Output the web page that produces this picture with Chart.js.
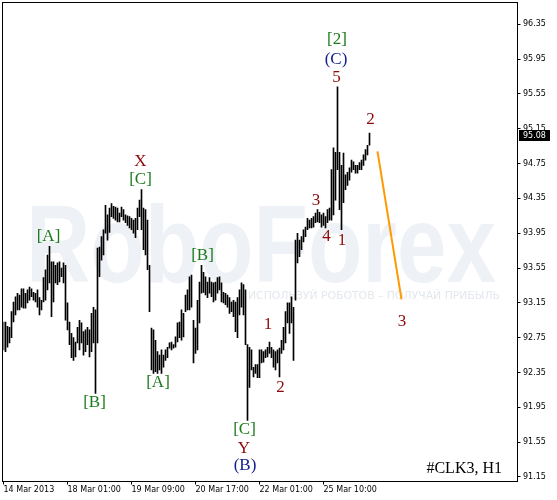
<!DOCTYPE html>
<html><head><meta charset="utf-8">
<script src="https://cdn.jsdelivr.net/npm/chart.js@4.4.1/dist/chart.umd.min.js"></script>
<style>html,body{margin:0;padding:0;background:#fff;overflow:hidden}canvas{display:block}</style>
</head><body>
<canvas id="c" width="557" height="500"></canvas>
<script>
// ---- data (hourly bars, #CLK3 H1) ----
const HIGHS = [
92.93,92.93,92.88,92.87,93.05,93.16,93.22,93.26,93.24,93.31,
93.31,93.26,93.30,93.33,93.31,93.27,93.26,93.30,93.21,93.18,
93.44,93.53,93.70,93.80,93.62,93.62,93.58,93.61,93.62,93.55,
93.61,93.58,93.15,92.93,92.80,92.75,92.70,92.87,92.95,92.92,
92.82,92.84,92.87,92.84,93.03,93.10,93.07,93.78,93.79,93.91,
93.99,94.27,94.16,94.24,94.29,94.26,94.25,94.24,94.18,94.25,
94.22,94.16,94.15,94.14,94.12,94.10,94.12,94.24,94.33,94.45,
94.24,94.22,94.10,93.58,92.86,92.84,92.72,92.59,92.55,92.61,
92.55,92.61,92.64,92.69,92.70,92.67,92.76,92.92,92.93,93.07,
93.03,93.24,93.30,93.45,93.47,92.95,92.86,93.18,93.39,93.58,
93.50,93.45,93.39,93.44,93.39,93.38,93.39,93.44,93.45,93.38,
93.27,93.26,93.24,93.21,93.16,93.18,93.16,93.21,93.30,93.38,
93.36,93.30,92.67,92.64,92.61,92.41,92.44,92.44,92.61,92.61,
92.59,92.61,92.64,92.70,92.64,92.61,92.59,92.61,92.63,92.72,
92.87,93.05,93.15,93.15,93.22,93.10,93.87,93.95,93.87,93.91,
93.99,94.02,94.12,94.10,94.12,94.14,94.18,94.22,94.19,94.16,
94.18,94.14,94.22,94.24,94.68,94.93,94.88,95.63,94.88,94.73,
94.87,94.62,94.65,94.70,94.79,94.77,94.73,94.73,94.76,94.79,
94.85,94.91,94.96,95.10];
const LOWS = [
92.61,92.59,92.64,92.69,92.75,92.93,93.01,93.07,93.07,93.10,
93.09,93.09,93.15,93.18,93.22,93.18,93.16,93.10,93.01,93.07,
93.16,93.18,93.30,93.38,92.99,93.16,93.38,93.36,93.39,93.45,
93.38,92.95,92.84,92.67,92.52,92.49,92.53,92.69,92.61,92.69,
92.55,92.59,92.67,92.53,92.59,92.69,92.11,92.69,93.45,93.64,
93.70,93.95,93.87,93.96,94.14,94.12,94.10,94.08,94.08,94.14,
94.10,94.07,94.04,94.01,93.99,93.95,93.90,93.99,94.14,93.99,
93.76,93.70,93.53,93.05,92.38,92.34,92.36,92.34,92.38,92.34,
92.41,92.49,92.52,92.63,92.61,92.63,92.64,92.70,92.75,92.72,
92.76,93.05,93.07,93.07,93.10,92.46,92.57,92.61,92.92,93.26,
93.27,93.24,93.21,93.26,93.22,93.16,93.18,93.26,93.30,93.16,
93.15,93.13,93.10,93.03,93.05,92.99,92.82,92.75,93.01,93.10,
93.01,92.67,91.80,92.18,92.38,92.30,92.34,92.29,92.29,92.46,
92.47,92.52,92.53,92.57,92.52,92.41,92.38,92.46,92.30,92.57,
92.61,92.69,92.92,92.80,92.92,92.49,93.18,93.61,93.68,93.76,
93.85,93.91,93.99,94.01,94.01,94.02,94.07,94.08,94.07,94.02,
94.04,94.01,94.07,94.10,94.10,94.16,94.33,94.68,94.22,93.99,
94.30,94.45,94.50,94.56,94.65,94.68,94.64,94.64,94.68,94.68,
94.73,94.79,94.85,94.96];
const SLOT_COUNT = 258;
const TIME_TICK_INDEX = [0, 32, 64, 96, 128, 160];
const TIME_TICK_LABELS = ['14 Mar 2013', '18 Mar 01:00', '19 Mar 09:00', '20 Mar 17:00', '22 Mar 01:00', '25 Mar 10:00'];
const PRICE_TICKS = [91.15, 91.55, 91.95, 92.35, 92.75, 93.15, 93.55, 93.95, 94.35, 94.75, 95.15, 95.55, 95.95, 96.35];
const PRICE_MIN = 91.098;
const PRICE_MAX = 96.600;
const LAST_PRICE = 95.08;
const FORECAST_X = [187, 199];
const FORECAST_Y = [94.89, 93.19];
const WAVE_TEXT = ['[2]', '(C)', '5', '2', 'X', '[C]', '[A]', '3', '4', '1', '[B]', '1', '2', '[B]', '[A]', '[C]', 'Y', '(B)', '3'];
const WAVE_X = [166.75, 166.25, 166.5, 183.5, 68.5, 68.5, 22.5, 156.25, 161.5, 169.25, 99.5, 132.25, 138.5, 45.5, 77.25, 120.5, 120.25, 120.75, 199.25];
const WAVE_Y = [96.17, 95.94, 95.74, 95.26, 94.77, 94.57, 93.91, 94.33, 93.91, 93.87, 93.69, 92.90, 92.18, 92.00, 92.24, 91.70, 91.48, 91.28, 92.94];
const WAVE_KIND = ['g', 'b', 'r', 'r', 'r', 'g', 'g', 'r', 'r', 'r', 'g', 'r', 'r', 'g', 'g', 'g', 'r', 'b', 'r'];
const SYMBOL_TITLE = '#CLK3, H1';

const WAVE_COLORS = { r: '#8e0a0a', g: '#1b7a1b', b: '#14208c' };

const decor = {
  id: 'decor',
  beforeDatasetsDraw(chart) {
    const { ctx, chartArea: a } = chart;
    ctx.save();
    ctx.fillStyle = '#eef1f5';
    ctx.font = 'bold 110px "Liberation Sans"';
    ctx.textAlign = 'left';
    ctx.textBaseline = 'alphabetic';
    ctx.fillText('RoboForex', a.left + 22.5, a.top + 279.5, 470);
    ctx.fillStyle = '#e3e8ee';
    ctx.font = '11px "DejaVu Sans"';
    ctx.fillText('ИСПОЛЬЗУЙ РОБОТОВ – ПОЛУЧАЙ ПРИБЫЛЬ', a.left + 244.5, a.top + 296, 252);
    ctx.restore();
  },
  afterDatasetsDraw(chart) {
    const { ctx, chartArea: a, scales: { x, y } } = chart;
    ctx.save();
    ctx.font = '17px "Liberation Serif"';
    ctx.textAlign = 'center';
    ctx.textBaseline = 'middle';
    for (let k = 0; k < WAVE_TEXT.length; k++) {
      ctx.fillStyle = WAVE_COLORS[WAVE_KIND[k]];
      ctx.fillText(WAVE_TEXT[k], x.getPixelForValue(WAVE_X[k]), y.getPixelForValue(WAVE_Y[k]));
    }
    ctx.fillStyle = '#000';
    ctx.font = '16px "Liberation Serif"';
    ctx.textAlign = 'right';
    ctx.textBaseline = 'alphabetic';
    ctx.fillText(SYMBOL_TITLE, a.right - 15.5, a.bottom - 8.5);
    ctx.restore();
  },
  afterDraw(chart) {
    const { ctx, chartArea: a, scales: { y } } = chart;
    ctx.save();
    ctx.strokeStyle = '#000';
    ctx.lineWidth = 1;
    ctx.strokeRect(a.left - 1, a.top, a.right - a.left + 1, a.bottom - a.top);
    const py = y.getPixelForValue(LAST_PRICE);
    ctx.fillStyle = '#000';
    ctx.fillRect(a.right + 1.5, Math.round(py) - 5, 31, 11);
    ctx.fillStyle = '#fff';
    ctx.font = '8px "DejaVu Sans"';
    ctx.textAlign = 'left';
    ctx.textBaseline = 'middle';
    ctx.fillText(LAST_PRICE.toFixed(2), a.right + 5.5, Math.round(py) + 0.5);
    ctx.restore();
  }
};

new Chart(document.getElementById('c'), {
  type: 'bar',
  data: {
    labels: Array.from({ length: SLOT_COUNT }, (_, i) => i),
    datasets: [
      {
        type: 'line',
        data: FORECAST_X.map((xv, k) => ({ x: xv, y: FORECAST_Y[k] })),
        borderColor: '#ff9900',
        borderWidth: 2,
        pointRadius: 0,
        fill: false,
        tension: 0,
        order: 1
      },
      {
        type: 'bar',
        data: LOWS.map((lo, i) => [lo, HIGHS[i]]),
        backgroundColor: '#000',
        borderWidth: 0,
        barThickness: 1,
        grouped: false,
        order: 2
      }
    ]
  },
  options: {
    responsive: false,
    animation: false,
    devicePixelRatio: 1,
    layout: { padding: { left: 3.5, top: 2.5, right: 0, bottom: 0 } },
    plugins: { legend: { display: false }, tooltip: { enabled: false } },
    scales: {
      x: {
        type: 'category',
        offset: false,
        grid: {
          display: true, drawOnChartArea: false, drawTicks: true, tickLength: 3, offset: false,
          color: c => TIME_TICK_INDEX.includes(c.index) ? '#000' : 'rgba(0,0,0,0)'
        },
        border: { display: false },
        ticks: {
          autoSkip: false, maxRotation: 0, minRotation: 0, align: 'start', padding: 1,
          color: '#000', font: { family: 'DejaVu Sans', size: 8 },
          callback: (v, i) => { const k = TIME_TICK_INDEX.indexOf(i); return k >= 0 ? TIME_TICK_LABELS[k] : ''; }
        },
        afterFit: s => { s.height = 18.5; s.paddingLeft = 0; s.paddingRight = 0; }
      },
      y: {
        type: 'linear',
        position: 'right',
        min: PRICE_MIN,
        max: PRICE_MAX,
        grid: { drawOnChartArea: false, drawTicks: true, tickLength: 3, color: '#000' },
        border: { display: false },
        afterBuildTicks: s => { s.ticks = PRICE_TICKS.map(v => ({ value: v })); },
        ticks: {
          padding: 2.5, color: '#000', font: { family: 'DejaVu Sans', size: 8 },
          callback: v => Number(v).toFixed(2)
        },
        afterFit: s => { s.width = 39.5; s.paddingTop = 0; s.paddingBottom = 0; }
      }
    }
  },
  plugins: [decor]
});
</script>
</body></html>
